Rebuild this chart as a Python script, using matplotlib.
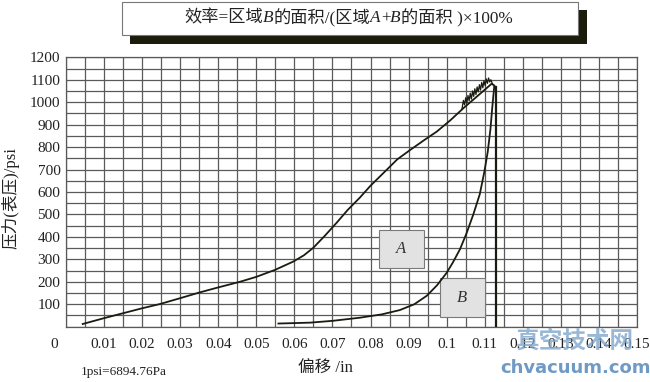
import matplotlib
matplotlib.use("Agg")
import matplotlib.pyplot as plt
from matplotlib.patches import Rectangle
from matplotlib.transforms import blended_transform_factory

plt.rcParams['font.family'] = ['Liberation Serif', 'Noto Sans CJK SC']

# loading curve (pressure rises with displacement)
load_x = [0.0044, 0.0100, 0.0150, 0.0200, 0.0247, 0.0300, 0.0352, 0.0400, 0.0457,
          0.0500, 0.0549, 0.0597, 0.0625, 0.0650, 0.0680, 0.0711, 0.0740, 0.0772,
          0.0800, 0.0842, 0.0870, 0.0904, 0.0940, 0.0974, 0.1010, 0.1045,
          0.1080, 0.1118, 0.1125, 0.1128]
load_y = [12, 38, 60, 82, 101, 127, 153, 175, 200,
          222, 253, 290, 318, 352, 405, 463, 520, 575,
          628, 698, 745, 787, 830, 869, 920, 975,
          1026, 1082, 1075, 1060]

# jagged trace near the top of the stroke
noise_x = [0.1040, 0.1044, 0.1047, 0.1050, 0.1053, 0.1056, 0.1059, 0.1062, 0.1065,
           0.1068, 0.1071, 0.1074, 0.1077, 0.1080, 0.1083, 0.1086, 0.1089, 0.1092,
           0.1095, 0.1098, 0.1101, 0.1104, 0.1107, 0.1110, 0.1113, 0.1116, 0.1120]
noise_y = [968, 1008, 988, 1020, 996, 1030, 1006, 1040, 1014,
           1050, 1026, 1060, 1034, 1068, 1046, 1078, 1054, 1088,
           1064, 1096, 1074, 1104, 1084, 1108, 1090, 1100, 1083]

# unloading curve
unload_x = [0.1125, 0.1120, 0.1115, 0.1108, 0.1099, 0.1087, 0.1070, 0.1052, 0.1035,
            0.1016, 0.1000, 0.0975, 0.0948, 0.0915, 0.0877, 0.0830, 0.0772, 0.0700,
            0.0641, 0.0558]
unload_y = [1070, 980, 880, 780, 690, 590, 500, 415, 345,
            285, 240, 185, 138, 100, 74, 55, 40, 26,
            18, 14]

# vertical line at end of stroke
stop_x = [0.1130, 0.1130]
stop_y = [0, 1068]

# shaded label boxes: (x0, x1, y0, y1)
box_a = (0.0822, 0.0940, 261, 431)
box_b = (0.0982, 0.1100, 43, 217)

x_ticks = [0, 0.01, 0.02, 0.03, 0.04, 0.05, 0.06, 0.07, 0.08, 0.09, 0.1, 0.11,
           0.12, 0.13, 0.14, 0.15]
x_labels = ['', '0.01', '0.02', '0.03', '0.04', '0.05', '0.06', '0.07', '0.08',
            '0.09', '0.1', '0.11', '0.12', '0.13', '0.14', '0.15']
y_ticks = [100, 200, 300, 400, 500, 600, 700, 800, 900, 1000, 1100, 1200]

title_parts = [('效率=区域', 'normal'), ('B', 'italic'), ('的面积/(区域', 'normal'),
               ('A', 'italic'), ('+', 'normal'), ('B', 'italic'),
               ('的面积 )×100%', 'normal')]

ink = '#1b1b10'
grid_c = '#5a5a5a'
txt_c = '#222222'

fig = plt.figure(figsize=(6.5, 3.82), dpi=100)
ax = fig.add_axes([0.1015, 0.1448, 0.8785, 0.7052])

ax.set_xlim(0, 0.15)
ax.set_ylim(0, 1200)
ax.set_xticks(x_ticks)
ax.set_xticklabels(x_labels)
ax.set_xticks([i * 0.005 for i in range(31)], minor=True)
ax.set_yticks(y_ticks)
ax.set_yticks([i * 50 for i in range(25)], minor=True)
ax.grid(True, which='both', color=grid_c, lw=0.9)
ax.set_axisbelow(True)
ax.tick_params(which='both', length=0, labelsize=11, colors=txt_c)
ax.tick_params(axis='x', pad=8)
ax.tick_params(axis='y', pad=4)
for s in ax.spines.values():
    s.set_color(grid_c)
    s.set_linewidth(0.9)

# the "0" label sits a little left of the axis
tr = blended_transform_factory(ax.transData, ax.transAxes)
ax.text(-0.0032, -0.043, '0', transform=tr, ha='center', va='top',
        fontsize=11, color=txt_c)

for (x0, x1, y0, y1), name in [(box_a, 'A'), (box_b, 'B')]:
    ax.add_patch(Rectangle((x0, y0), x1 - x0, y1 - y0, facecolor='#e2e2e2',
                           edgecolor='#7a7a7a', lw=0.8, zorder=3))
    ax.text((x0 + x1) / 2, (y0 + y1) / 2, name, ha='center', va='center',
            fontsize=12, style='italic', color='#333333', zorder=4)

ax.plot(load_x, load_y, color=ink, lw=1.3, zorder=5)
ax.plot(noise_x, noise_y, color=ink, lw=0.9, zorder=5)
ax.plot(unload_x, unload_y, color=ink, lw=1.3, zorder=5)
ax.plot(stop_x, stop_y, color=ink, lw=1.6, zorder=5)

# title box with dark drop shadow
fig.patches.append(Rectangle((0.200, 0.8848), 0.703, 0.089, transform=fig.transFigure,
                             facecolor='#1c1c0c', edgecolor='none', zorder=1))
fig.patches.append(Rectangle((0.1877, 0.9084), 0.7015, 0.0864, transform=fig.transFigure,
                             facecolor='white', edgecolor='#777777', lw=0.8, zorder=2))

# title built from pieces so the letters can be italic
renderer = fig.canvas.get_renderer()
pieces = []
for s, st in title_parts:
    t = fig.text(0, 0.952, s, style=st, ha='left', va='center', fontsize=12.4,
                 color=txt_c, zorder=3)
    pieces.append(t)
widths = [t.get_window_extent(renderer).width for t in pieces]
W = fig.bbox.width
x = 0.536 * W - sum(widths) / 2
for t, w in zip(pieces, widths):
    t.set_x(x / W)
    x += w

fig.text(0.016, 0.482, '压力(表压)/psi', rotation=90, ha='center', va='center',
         fontsize=12, color=txt_c)
fig.text(0.5, 0.037, '偏移 /in', ha='center', va='center', fontsize=12, color=txt_c)
fig.text(0.19, 0.027, '1psi=6894.76Pa', ha='center', va='center', fontsize=9.5,
         color=txt_c)

# site watermark over the lower right corner
fig.text(0.885, 0.108, '真空技术网', ha='center', va='center', fontsize=17,
         fontweight='bold', color='#7ea6cc', alpha=0.8, family=['Noto Sans CJK SC'])
fig.text(0.885, 0.036, 'chvacuum.com', ha='center', va='center', fontsize=13,
         fontweight='bold', color='#5f8fc0', alpha=0.9, family=['DejaVu Sans'])

fig.savefig('out.png', dpi=100)
